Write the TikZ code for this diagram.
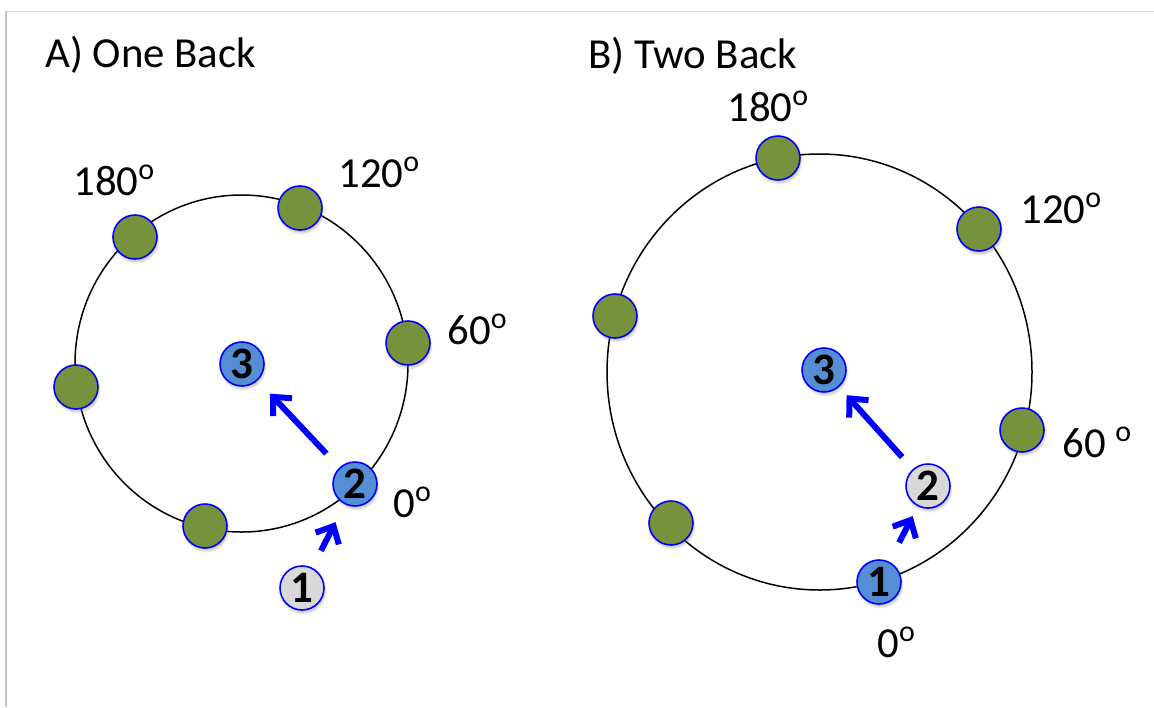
\documentclass[tikz,border=0pt]{standalone}
\usepackage{fontspec}
\setmainfont{Carlito}
\usetikzlibrary{arrows.meta,shadows}
\definecolor{dotgreen}{HTML}{76923C}
\definecolor{nodeblue}{HTML}{558ED5}
\definecolor{edgeblue}{HTML}{0000FF}
\definecolor{nodegray}{HTML}{D9D9D9}
\definecolor{framegray}{HTML}{C4C4C4}
\definecolor{framegraylight}{HTML}{D6D6D6}
\begin{document}
\begin{tikzpicture}[x=0.5pt,y=-0.5pt,
  every node/.style={font=\fontsize{21.4pt}{26pt}\selectfont},
  ring/.style={draw=black, line width=0.75pt},
  softshadow/.style={circular drop shadow={shadow scale=1.08, shadow xshift=0.4pt, shadow yshift=-1.4pt, opacity=0.35}},
  dot/.style={circle, draw=edgeblue, line width=0.8pt, fill=dotgreen, minimum size=22pt, inner sep=0pt, softshadow},
  numblue/.style={circle, draw=edgeblue, line width=0.8pt, fill=nodeblue, minimum size=22pt, inner sep=0pt, softshadow, font=\fontsize{22.5pt}{26pt}\selectfont\bfseries},
  numgray/.style={numblue, fill=nodegray},
  lbl/.style={anchor=base west, inner sep=0pt},
  flow/.style={draw=edgeblue, line width=3pt, -{Straight Barb[length=7pt,width=13pt]}}
]
\useasboundingbox (0,0) rectangle (1154,707);
% frame
\draw[framegraylight, line width=0.6pt] (5,11.5) -- (1154,11.5);
\draw[framegray, line width=1.1pt] (6,11) -- (6,707);

% ---------------- A) One Back ----------------
\node[lbl] (titleA) at (45,67) {A) One Back};
\draw[ring] (241.5,363.5) ellipse[x radius=166.5, y radius=168.5];
\node[dot] (a180) at (135,237) {};
\node[dot] (a120) at (300,208) {};
\node[dot] (a60)  at (408,343) {};
\node[dot] (aL)   at (76,387) {};
\node[dot] (aB)   at (205,526) {};
\node[numblue] (a2) at (355,484) {2};
\node[numblue] (a3) at (242,364) {3};
\node[numgray] (a1) at (302,588) {1};
\node[lbl] (la180) at (73,195) {180\textsuperscript{o}};
\node[lbl] (la120) at (338,187) {120\textsuperscript{o}};
\node[lbl] (la60)  at (447,344) {60\textsuperscript{o}};
\node[lbl] (la0)   at (393,517) {0\textsuperscript{o}};
\draw[flow, shorten <=9.5pt, shorten >=9pt] (a2) -- (a3);
\draw[flow, shorten <=9.5pt, shorten >=10pt] (a1) -- (a2);

% ---------------- B) Two Back ----------------
\node[lbl] (titleB) at (588,68) {B) Two Back};
\draw[ring] (819.5,372) ellipse[x radius=212.5, y radius=218];
\node[dot] (b180) at (778,158) {};
\node[dot] (b120) at (979,229) {};
\node[dot] (bL)   at (615,316) {};
\node[dot] (b60)  at (1022,430) {};
\node[dot] (bB)   at (671,523) {};
\node[numblue] (b1) at (879,582) {1};
\node[numgray] (b2) at (928,486) {2};
\node[numblue] (b3) at (824,370) {3};
\node[lbl] (lb180) at (727,121) {180\textsuperscript{o}};
\node[lbl] (lb120) at (1020,223) {120\textsuperscript{o}};
\node[lbl] (lb60)  at (1062,457) {60 \textsuperscript{o}};
\node[lbl] (lb0)   at (877,657) {0\textsuperscript{o}};
\draw[flow, shorten <=8pt, shorten >=5.5pt] (b2) -- (b3);
\draw[flow, shorten <=10.7pt, shorten >=5.5pt] (b1) -- (b2);
\end{tikzpicture}
\end{document}
